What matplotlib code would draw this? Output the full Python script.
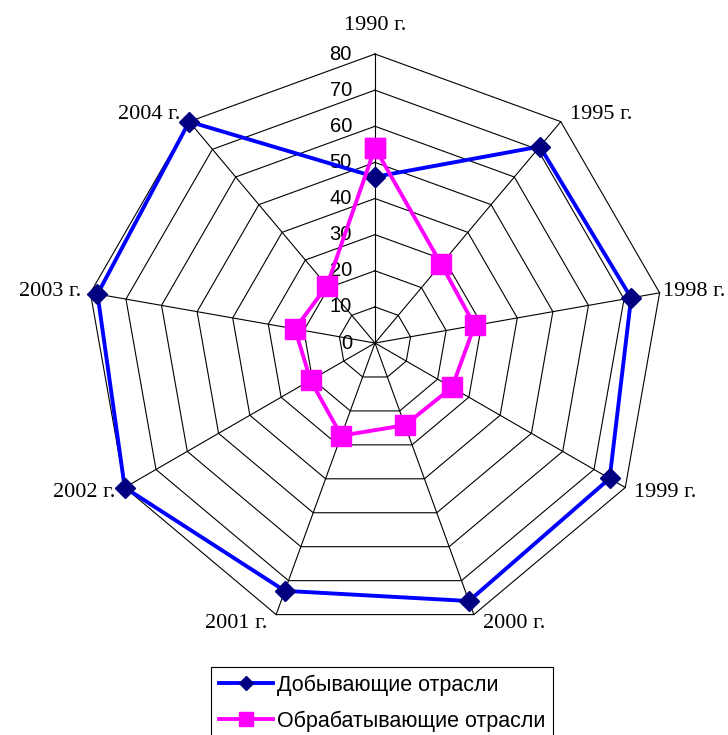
import numpy as np
import matplotlib
matplotlib.use("Agg")
import matplotlib.pyplot as plt
from matplotlib import transforms

# данные
years = ["1990 г.", "1995 г.", "1998 г.", "1999 г.", "2000 г.",
         "2001 г.", "2002 г.", "2003 г.", "2004 г."]
mining = [46, 71, 72, 75, 76, 73, 80, 78, 80]
manufacturing = [54, 28.5, 28, 24.6, 24.2, 27.3, 20.6, 22.5, 20.7]
r_ticks = [0, 10, 20, 30, 40, 50, 60, 70, 80]

n = len(years)
angles = np.linspace(0, 2 * np.pi, n, endpoint=False)
ang_closed = np.append(angles, angles[0])

fig = plt.figure(figsize=(7.28, 7.35), dpi=100)
ax = fig.add_axes([0.1181, 0.1401, 0.794, 0.7864], projection="polar")
ax.set_theta_zero_location("N")
ax.set_theta_direction(-1)
ax.set_ylim(0, 80)
ax.grid(False)
ax.set_xticks([])
ax.set_yticks([])
ax.spines["polar"].set_visible(False)

# сетка - многоугольники и лучи
for r in r_ticks[1:]:
    ax.plot(ang_closed, [r] * (n + 1), color="black", lw=0.8, zorder=1, clip_on=False)
for a in angles:
    ax.plot([a, a], [0, 80], color="black", lw=0.8, zorder=1, clip_on=False)

# подписи шкалы
px = 72 / fig.dpi
tick_tr = transforms.offset_copy(ax.transData, fig=fig, x=-23 * px, y=0, units="points")
for r in r_ticks:
    ax.text(0, r, str(r), transform=tick_tr, ha="right", va="center",
            fontsize=14.5, family="Liberation Sans")

# подписи категорий
for a, lab in zip(angles, years):
    s, c = np.sin(a), np.cos(a)
    if abs(s) < 0.1:
        ha, dx, dy = "center", 0, 29
    else:
        ha = "left" if s > 0 else "right"
        pad = 3 if s > 0.95 else 9
        dx, dy = pad * np.sign(s), 9 * c
    tr = transforms.offset_copy(ax.transData, fig=fig, x=dx * px, y=dy * px, units="points")
    ax.text(a, 80, lab, transform=tr, ha=ha, va="center",
            fontsize=16, family="Liberation Serif")

l1, = ax.plot(ang_closed, mining + mining[:1], color="#0000FF", lw=2.8,
              marker="D", ms=10, mfc="#000080", mec="#000080", zorder=3, clip_on=False)
l2, = ax.plot(ang_closed, manufacturing + manufacturing[:1], color="#FF00FF", lw=2.8,
              marker="s", ms=14, mfc="#FF00FF", mec="#FF00FF", zorder=4, clip_on=False)

leg = fig.legend([l1, l2], ["Добывающие отрасли", "Обрабатывающие отрасли"],
                 loc="upper center", bbox_to_anchor=(382 / 728, 1 - 656 / 735),
                 prop={"family": "Liberation Sans", "size": 15.5}, markerscale=0.7,
                 handlelength=2.5, handletextpad=0.2, labelspacing=0.7,
                 borderpad=0.35, fancybox=False, edgecolor="black", framealpha=1)
leg.get_frame().set_linewidth(0.8)

fig.savefig("out.png", dpi=100)
